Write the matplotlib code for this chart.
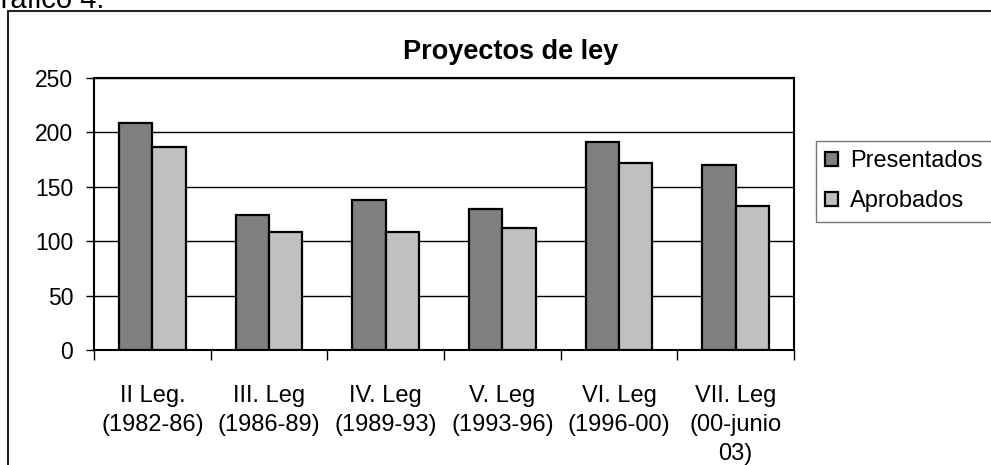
import matplotlib
import matplotlib.pyplot as plt
import matplotlib.patches as mpatches
from matplotlib import font_manager
import numpy as np
matplotlib.use('Agg')

categorias = ['II Leg.\n(1982-86)', 'III. Leg\n(1986-89)', 'IV. Leg\n(1989-93)',
              'V. Leg\n(1993-96)', 'VI. Leg\n(1996-00)', 'VII. Leg\n(00-junio\n03)']
presentados = [209, 124, 138, 130, 191, 170]
aprobados = [187, 108, 108, 112, 172, 132]

plt.rcParams['font.family'] = ['Liberation Sans', 'DejaVu Sans']
nombres = {f.name for f in font_manager.fontManager.ttflist}
fam_x = ['Liberation Sans Narrow', 'Liberation Sans'] if 'Liberation Sans Narrow' in nombres else ['Liberation Sans']

W, H = 991, 465
fig = plt.figure(figsize=(W / 100, H / 100), dpi=100)
ax = fig.add_axes([94 / W, 1 - 350 / H, 700 / W, 272 / H])

x = np.arange(len(categorias))
w = 0.285
ax.bar(x - w / 2, presentados, w, color='#808080', edgecolor='black', linewidth=1.6,
       label='Presentados', zorder=3)
ax.bar(x + w / 2, aprobados, w, color='#C0C0C0', edgecolor='black', linewidth=1.6,
       label='Aprobados', zorder=3)

ax.set_xlim(-0.5, len(categorias) - 0.5)
ax.set_ylim(0, 250)
ax.set_yticks([0, 50, 100, 150, 200, 250])
ax.yaxis.grid(True, color='black', linewidth=1.0, zorder=0)
ax.tick_params(axis='y', direction='out', length=6, width=1, labelsize=16.5, pad=9)

ax.set_xticks(x)
ax.set_xticklabels(categorias, fontsize=17, family=fam_x, linespacing=1.42)
ax.set_xticks(np.arange(-0.5, len(categorias)), minor=True)
ax.tick_params(axis='x', which='major', length=0, pad=25)
ax.tick_params(axis='x', which='minor', direction='out', length=7, width=1)

for s in ax.spines.values():
    s.set_linewidth(1.5)

fig.text(511 / W, 1 - 59 / H, 'Proyectos de ley', ha='center', va='baseline',
         fontsize=19.5, fontweight='bold')
fig.text(104 / W, 1 - 8 / H, 'Gráfico 4:', ha='right', va='baseline', fontsize=21)

fig.patches.append(mpatches.Rectangle((8 / W, -0.1), 2, 1 - 11 / H + 0.1, fill=False,
                                      linewidth=1.5, edgecolor='#222222',
                                      transform=fig.transFigure, figure=fig))

leg = ax.legend(loc='upper left', bbox_to_anchor=(816 / W, 1 - 141 / H),
                bbox_transform=fig.transFigure, fontsize=17, frameon=True,
                fancybox=False, edgecolor='#555555', handlelength=0.55,
                handleheight=0.55, handletextpad=0.5, borderpad=0.4,
                labelspacing=0.75, borderaxespad=0)
leg.get_frame().set_linewidth(1.0)

fig.savefig('out.png', dpi=100)
